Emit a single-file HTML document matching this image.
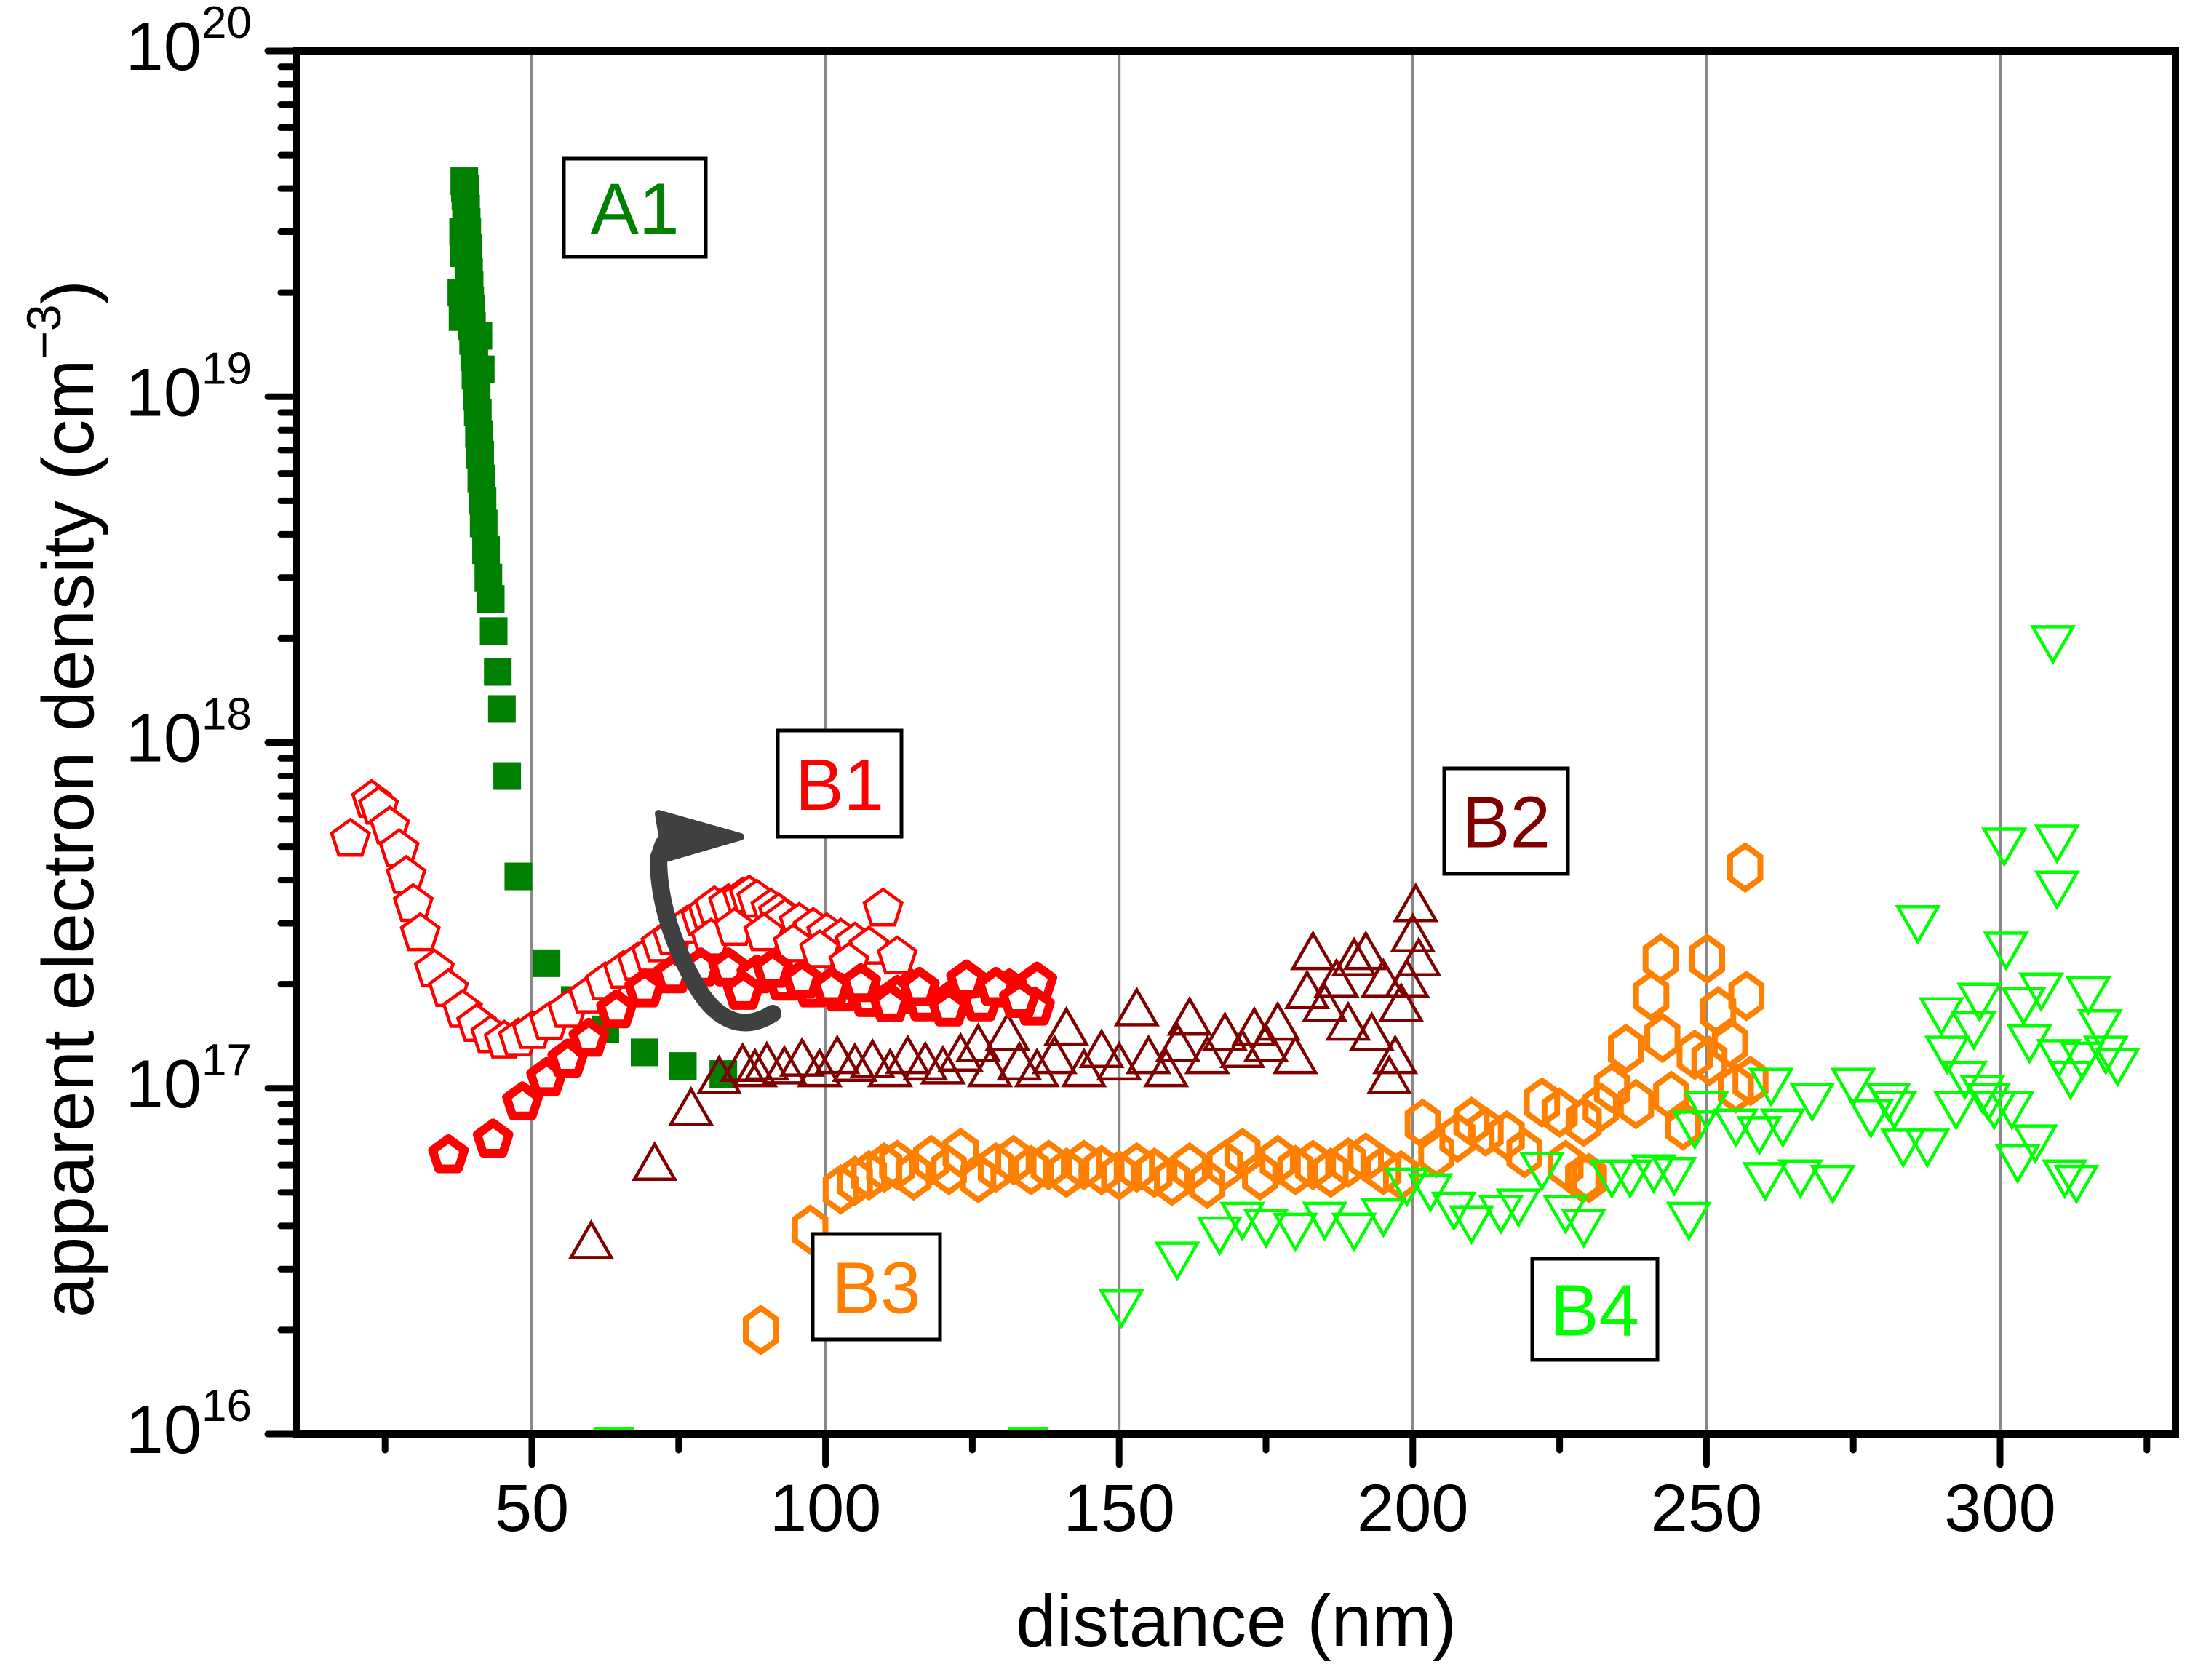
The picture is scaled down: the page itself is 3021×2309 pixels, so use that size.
<!DOCTYPE html>
<html><head><meta charset="utf-8">
<style>
html,body{margin:0;padding:0;background:#fff;}
svg{display:block;font-family:"Liberation Sans",Arial,sans-serif;}
</style></head>
<body>
<svg id="chart" width="3021" height="2309" viewBox="0 0 3021 2309" xmlns="http://www.w3.org/2000/svg">
<g id="grid"></g>
<g id="marks"></g>
<g id="axes"></g>
<g id="annot"></g>
</svg>
<script>
// ---- data ----
const xTicks = [50,100,150,200,250,300];
const xMinor = [25,75,125,175,225,275,325];
const yDecades = [16,17,18,19,20];

const a1X = [38.0,38.2,38.5,38.6,38.7,38.8,38.9,39.0,39.1,39.2,39.3,39.4,39.5,39.6,39.7,39.8,40.0,40.2,40.4,40.6,40.8,41.0,41.2,41.4,41.6,41.8,42.2,42.6,43.0,43.5,44.2,44.9,45.8,47.7,52.5,57.3,62.5,69.2,75.7,82.6,38.3,38.4,40.9,41.3];
const a1Y = [2.0e19,1.7e19,4.2e19,4.0e19,3.8e19,3.5e19,3.2e19,3.0e19,2.7e19,2.5e19,2.3e19,2.1e19,1.9e19,1.8e19,1.7e19,1.6e19,1.45e19,1.3e19,1.15e19,1.0e19,9e18,7.8e18,6.8e18,5.8e18,5e18,4.3e18,3.6e18,3.0e18,2.6e18,2.1e18,1.6e18,1.25e18,8e17,4.1e17,2.3e17,1.8e17,1.48e17,1.27e17,1.16e17,1.1e17,3.0e19,2.6e19,1.5e19,1.2e19];

const b1oX = [19.1,22.7,23.9,25.8,27.4,28.6,29.8,31.0,33.4,35.8,38.2,40.6,43.0,45.3,47.7,50.1,53.0,56.1,59.7,62.5,65.6,68.0,70.4,72.0,74.0,76.4,78.8,80.0,81.1,83.5,85.9,87.0,88.3,90.7,92.0,93.1,95.5,97.9,100.2,102.6,105,107.4,109.8,112.2,114.6,80.5,84.5,89.5,94.5,99.0,104.0];
const b1oY = [5.25e17,6.8e17,6.5e17,5.7e17,4.9e17,4.1e17,3.4e17,2.8e17,2.2e17,1.93e17,1.68e17,1.53e17,1.42e17,1.37e17,1.39e17,1.46e17,1.55e17,1.68e17,1.85e17,2.02e17,2.18e17,2.3e17,2.44e17,2.6e17,2.73e17,2.94e17,3.1e17,3.23e17,3.35e17,3.4e17,3.55e17,3.6e17,3.5e17,3.3e17,3.2e17,3.08e17,3.0e17,2.9e17,2.8e17,2.7e17,2.63e17,2.56e17,3.3e17,2.4e17,1.93e17,2.7e17,2.9e17,2.8e17,2.6e17,2.5e17,2.3e17];

const b1bX = [35.8,43.4,48.4,52.5,56.1,59.7,64.4,69.2,74.0,78.8,83.5,88.3,93.1,97.9,102.6,107.4,112.2,116.9,121.7,126.5,131.3,136.0,135.6,86,91,96,101,106,111,116,121,124,129,133];
const b1bY = [6.4e16,7.1e16,9.1e16,1.07e17,1.21e17,1.39e17,1.68e17,1.93e17,2.12e17,2.22e17,2.22e17,2.12e17,2.02e17,1.93e17,1.88e17,1.81e17,1.85e17,1.76e17,1.81e17,1.76e17,1.93e17,2.02e17,1.71e17,1.9e17,2.2e17,2.05e17,1.95e17,2.0e17,1.75e17,1.95e17,1.7e17,2.05e17,1.95e17,1.8e17];

const b2X = [60.1,70.9,77.1,81.9,85.9,88,90,93,96,99,102,105,108,111,114,117,120,123,126,128,131,133,136,139,141,144,147,150,153,155,158,160,162,165,168,171,173,175,177,180,182,183,185,187,189,190,192,193,195,196,197,198,199,200,200.5,201];
const b2Y = [3.5e16,5.9e16,8.5e16,1.05e17,1.14e17,1.1e17,1.15e17,1.12e17,1.18e17,1.1e17,1.2e17,1.14e17,1.17e17,1.1e17,1.2e17,1.15e17,1.12e17,1.22e17,1.3e17,1.1e17,1.4e17,1.15e17,1.1e17,1.2e17,1.45e17,1.1e17,1.25e17,1.15e17,1.65e17,1.2e17,1.1e17,1.3e17,1.55e17,1.2e17,1.4e17,1.25e17,1.45e17,1.3e17,1.5e17,1.2e17,1.85e17,2.4e17,1.7e17,2.0e17,1.5e17,2.3e17,2.4e17,1.4e17,2.0e17,1.05e17,1.2e17,1.7e17,2.0e17,2.7e17,3.3e17,2.3e17];

const b3X = [89.0,97.4,102.6,105,107.4,110,112.2,115,118,121,123,126,129,132,135,138,141,144,147,150,153,156,159,162,165,168,171,174,177,180,183,186,189,192,195,198,201.7,204,207.6,210,212.4,216,219,222,225,229.1,230,232,233.9,236.3,238,240.6,242.2,242.5,244,246,248,250.1,250.5,252,254,255,256.6,256.8,257.5,229,226];
const b3Y = [2.0e16,3.9e16,5.1e16,5.4e16,5.6e16,5.9e16,6.0e16,5.6e16,6.2e16,5.8e16,6.5e16,5.5e16,5.9e16,6.2e16,5.8e16,6.0e16,5.7e16,6.0e16,5.8e16,5.6e16,5.9e16,5.7e16,5.4e16,5.9e16,5.3e16,6.0e16,6.5e16,5.6e16,6.2e16,5.8e16,6.0e16,5.7e16,6.1e16,6.3e16,5.8e16,5.6e16,7.9e16,6.5e16,7.2e16,8.0e16,7.5e16,7.3e16,6.5e16,9.1e16,8.5e16,8.0e16,5.5e16,8.8e16,1.0e17,1.3e17,9.0e16,1.85e17,2.37e17,1.4e17,9.5e16,7.8e16,1.25e17,2.37e17,1.2e17,1.67e17,1.35e17,1.0e17,4.35e17,1.85e17,1.05e17,5.5e16,6.0e16];

const b4X = [150.4,159.9,167.1,171,175,180,185,190,195,199,203,207,210,215,218,222,226,229.1,233.9,237,241,244.5,247,248,250,255,259,260,261,263,266,268,271.5,275,278,281,282,283.5,286,287.6,290,291,292.5,294,295.5,296.5,297,298,299,300.7,301,302,303,304,305,306,307,309,309.7,309.7,310,311,312,313,314,315,317,318,320];
const b4Y = [2.4e16,3.3e16,3.9e16,4.3e16,4.1e16,4.0e16,4.3e16,4.0e16,4.4e16,5.4e16,5.2e16,4.6e16,4.2e16,4.5e16,4.7e16,6.0e16,4.5e16,4.1e16,5.7e16,5.7e16,5.9e16,5.8e16,4.3e16,7.9e16,9.0e16,8.0e16,7.6e16,5.6e16,1.05e17,8.0e16,5.7e16,9.5e16,5.5e16,1.05e17,8.5e16,9.5e16,9.0e16,7.0e16,3.1e17,7.0e16,1.68e17,1.3e17,9.0e16,1.1e17,1.53e17,1.85e17,1.0e17,9.5e16,9.0e16,5.2e17,2.6e17,9.0e16,6.3e16,1.8e17,1.4e17,7.2e16,1.98e17,2.0e18,5.3e17,3.9e17,1.27e17,5.7e16,1.1e17,5.5e16,1.25e17,1.93e17,1.55e17,1.3e17,1.2e17];

// ---- geometry ----
const X0 = 327.4, PXNM = 8.072, YTOP = 70, PXDEC = 475.25;
const L = 408, R = 2990, T = 70, B = 1971;
function sx(nm){ return X0 + nm*PXNM; }
function sy(v){ return YTOP + (20 - Math.log10(v))*PXDEC; }

const NS = "http://www.w3.org/2000/svg";
function mk(tag, attrs, parent){
  const e = document.createElementNS(NS, tag);
  for (const k in attrs) e.setAttribute(k, attrs[k]);
  parent.appendChild(e);
  return e;
}
function poly(n, cx, cy, r, rot, sy2){
  const pts = [];
  for (let i=0;i<n;i++){
    const a = rot + i*2*Math.PI/n;
    pts.push((cx + r*Math.cos(a)).toFixed(1)+","+(cy + r*(sy2||1)*Math.sin(a)).toFixed(1));
  }
  return pts.join(" ");
}

const grid = document.getElementById('grid');
const marks = document.getElementById('marks');
const axes = document.getElementById('axes');
const annot = document.getElementById('annot');

xTicks.forEach(t => {
  const g = mk('line', {x1:sx(t), x2:sx(t), y1:T, y2:B, stroke:'#888', 'stroke-width':4}, grid);
  
  
});

const defs = mk('defs', {}, document.getElementById('chart'));
const cp = mk('clipPath', {id:'plotclip'}, defs);
mk('rect', {x:L, y:T, width:R-L, height:B-T+8}, cp);
marks.setAttribute('clip-path', 'url(#plotclip)');

const gA1 = mk('g', {}, marks);


a1X.forEach((x,i) => {
  const s = 38;
  const e = mk('rect', {x:sx(x)-s/2, y:sy(a1Y[i])-s/2, width:s, height:s, fill:'#008000'}, gA1);
  
  
});

const gB3 = mk('g', {}, marks);


b3X.forEach((x,i) => {
  const e = mk('polygon', {points:poly(6, sx(x), sy(b3Y[i]), 24, -Math.PI/2, 1.25), fill:'none', stroke:'#ff8000', 'stroke-width':8}, gB3);
  
  
});

const gB4 = mk('g', {}, marks);


b4X.forEach((x,i) => {
  const e = mk('polygon', {points:poly(3, sx(x), sy(b4Y[i]), 32, Math.PI/2), fill:'none', stroke:'#00ff00', 'stroke-width':4.5}, gB4);
  
  
});

const gB2 = mk('g', {}, marks);


b2X.forEach((x,i) => {
  const e = mk('polygon', {points:poly(3, sx(x), sy(b2Y[i]), 32, -Math.PI/2), fill:'none', stroke:'#800000', 'stroke-width':4.5}, gB2);
  
  
});

const gB1o = mk('g', {}, marks);


b1oX.forEach((x,i) => {
  const e = mk('polygon', {points:poly(5, sx(x), sy(b1oY[i]), 27, -Math.PI/2), fill:'#fff', stroke:'#ff0000', 'stroke-width':4.5}, gB1o);
  
  
});

const gB1b = mk('g', {}, marks);


b1bX.forEach((x,i) => {
  const e = mk('polygon', {points:poly(5, sx(x), sy(b1bY[i]), 23, -Math.PI/2), fill:'#fff', stroke:'#ff0000', 'stroke-width':12, 'stroke-linejoin':'round'}, gB1b);
  
  
});

[[64,'#00ff00'],[134.5,'#00ff00']].forEach(p => {
  const e = mk('rect', {x:sx(p[0])-28, y:B-10, width:56, height:8, fill:p[1]}, marks);
  
  
});

const frame = mk('rect', {x:L, y:T, width:R-L, height:B-T, fill:'none', stroke:'#000', 'stroke-width':10}, axes);



xTicks.forEach(t => {
  const tk = mk('line', {x1:sx(t), x2:sx(t), y1:B, y2:B+42, stroke:'#000', 'stroke-width':9, 'stroke-linecap':'round'}, axes);
  
  
  const lb = mk('text', {x:sx(t), y:B+133, 'font-size':92, 'text-anchor':'middle', fill:'#000'}, axes);
  lb.textContent = t;
  
  
});
xMinor.forEach(t => {
  const tk = mk('line', {x1:sx(t), x2:sx(t), y1:B, y2:B+22, stroke:'#000', 'stroke-width':9, 'stroke-linecap':'round'}, axes);
  
  
});

yDecades.forEach(d => {
  const y = sy(Math.pow(10,d));
  const tk = mk('line', {x1:L-40, x2:L, y1:y, y2:y, stroke:'#000', 'stroke-width':9, 'stroke-linecap':'round'}, axes);
  
  
  const lb = mk('text', {x:L-62, y:y+26, 'font-size':94, 'text-anchor':'end', fill:'#000'}, axes);
  
  
  const t1 = mk('tspan', {}, lb); t1.textContent = '10';
  const t2 = mk('tspan', {dy:-44, 'font-size':62}, lb); t2.textContent = d;
  if (d < 20) {
    for (let m=2;m<=9;m++){
      const ym = sy(m*Math.pow(10,d));
      const mt = mk('line', {x1:L-22, x2:L, y1:ym, y2:ym, stroke:'#000', 'stroke-width':9, 'stroke-linecap':'round'}, axes);
      
      
    }
  }
});

const xt = mk('text', {x:(L+R)/2, y:2262, 'font-size':100, 'text-anchor':'middle', fill:'#000'}, axes);
xt.textContent = 'distance (nm)';



const yt = mk('text', {x:0, y:0, 'font-size':100, 'text-anchor':'middle', fill:'#000', transform:'translate(128,1098) rotate(-90)'}, axes);


const y1 = mk('tspan', {}, yt); y1.textContent = 'apparent electron density (cm';
const y2 = mk('tspan', {dy:-45, 'font-size':66}, yt); y2.textContent = '\u22123';
const y3 = mk('tspan', {dy:45}, yt); y3.textContent = ')';

function box(name, x, y, w, h, txt, color){
  const g = mk('g', {}, annot);
  
  
  mk('rect', {x:x, y:y, width:w, height:h, fill:'#fff', stroke:'#000', 'stroke-width':5}, g);
  const t = mk('text', {x:x+w/2, y:y+h/2+36, 'font-size':100, 'text-anchor':'middle', fill:color}, g);
  t.textContent = txt;
}
box('label-a1', 775, 218, 195, 135, 'A1', '#008000');
box('label-b1', 1069, 1004, 170, 146, 'B1', '#ff0000');
box('label-b2', 1985, 1056, 170, 145, 'B2', '#800000');
box('label-b3', 1117, 1696, 175, 145, 'B3', '#ff8000');
box('label-b4', 2106, 1730, 172, 139, 'B4', '#00ff00');

const arr = mk('g', {}, annot);


mk('path', {d:'M1062,1393 C1020,1420 985,1400 960,1360 C925,1300 905,1240 905,1180 L912,1160', fill:'none', stroke:'#404040', 'stroke-width':24, 'stroke-linecap':'round'}, arr);
mk('polygon', {points:'905,1118 1018,1150 915,1180', fill:'#404040', stroke:'#404040', 'stroke-width':10, 'stroke-linejoin':'round'}, arr);
</script>
</body></html>
